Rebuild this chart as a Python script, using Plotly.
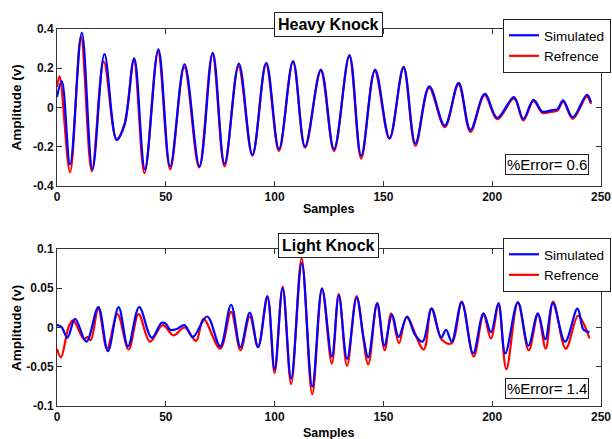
import plotly.graph_objects as go

# ---------------- data ----------------
# Heavy knock - simulated
hk_sim_x = [0, 2.2, 6, 11.4, 16.3, 21.8, 27.4, 31, 35.5, 40.4, 46.6, 52, 58.6, 65.5, 71.6,
            77, 83.6, 89.8, 96.2, 102, 108.5, 114, 121.3, 127.3, 134.4, 139.8, 146.2, 152.8,
            159.3, 164.7, 171.1, 178.2, 184.6, 190, 196.6, 202.3, 210, 214.3, 219, 223.1,
            227, 230, 232.6, 237, 243.5, 245.4]
hk_sim_y = [0.053, 0.135, -0.29, 0.38, -0.315, 0.272, -0.166, -0.09, 0.25, -0.315, 0.296,
            -0.30, 0.22, -0.30, 0.279, -0.286, 0.224, -0.241, 0.227, -0.212, 0.237, -0.198,
            0.193, -0.212, 0.267, -0.246, 0.193, -0.156, 0.207, -0.183, 0.108, -0.092, 0.125,
            -0.114, 0.07, -0.053, 0.053, -0.058, 0.039, -0.021, -0.015, -0.008, 0.036, -0.05,
            0.065, 0.027]
# Heavy knock - reference
hk_ref_x = [0, 1.2, 6, 11, 16, 21.5, 27.4, 31, 35.3, 40.2, 46.4, 52, 58.5, 65.3, 71.4, 77,
            83.4, 89.8, 96, 102, 108.4, 114, 121.2, 127.3, 134.3, 139.8, 146, 152.8, 159.2,
            164.7, 171, 178.2, 184.5, 190, 196.5, 202.3, 210, 214.3, 219, 223.1, 227, 230,
            232.6, 237, 243.5, 245.4]
hk_ref_y = [0.104, 0.159, -0.33, 0.36, -0.325, 0.232, -0.16, -0.085, 0.24, -0.335, 0.285,
            -0.315, 0.205, -0.305, 0.272, -0.30, 0.21, -0.245, 0.222, -0.222, 0.232, -0.205,
            0.187, -0.222, 0.26, -0.26, 0.185, -0.16, 0.2, -0.195, 0.1, -0.1, 0.118, -0.124,
            0.063, -0.06, 0.045, -0.066, 0.032, -0.028, -0.022, -0.016, 0.03, -0.058, 0.055,
            0.018]

# Light knock - simulated
lk_sim_x = [0, 2, 4.8, 8.3, 13.5, 19, 23.4, 28.3, 32.6, 37.8, 43.5, 48.1, 50, 52, 55, 58.6,
            62.4, 69, 75, 80, 84.3, 88.6, 92.4, 96.7, 100, 103.7, 107.6, 112.5, 117.3, 121.8,
            126.3, 129.5, 133.3, 137.7, 140.8, 143, 147.2, 150.4, 154, 157, 160.9, 164.5, 168,
            172.2, 176.5, 178.8, 181.4, 186, 191.2, 196, 199.4, 202.9, 206, 211.8, 216.6, 221,
            224.4, 227.9, 233.5, 239.2, 242, 244.7]
lk_sim_y = [0.003, 0.001, -0.013, 0.011, -0.018, 0.026, -0.030, 0.026, -0.024, 0.026, -0.013,
            0.006, 0.005, -0.003, -0.002, 0.003, -0.012, 0.014, -0.024, 0.029, -0.025, 0.019,
            -0.025, 0.040, -0.053, 0.050, -0.065, 0.082, -0.075, 0.050, -0.037, 0.041, -0.040,
            0.038, -0.012, -0.038, 0.031, -0.023, 0.016, -0.012, 0.014, -0.009, -0.018, 0.024,
            -0.013, -0.003, -0.018, 0.032, -0.033, 0.018, -0.006, 0.031, -0.033, 0.032, -0.023,
            0.018, -0.015, 0.031, -0.018, 0.024, -0.003, -0.006]
# Light knock - reference
lk_ref_x = [0, 1.8, 5.5, 7.4, 12.4, 14, 15.5, 19, 23, 27.8, 32.9, 37.5, 42.7, 48.6, 53.5,
            58.6, 63.9, 67.3, 75, 80, 84.3, 88.6, 92.4, 96.7, 100, 103.7, 107.6, 112.4, 117.3,
            121.8, 126.3, 129.5, 133.3, 137.7, 143, 147, 150.6, 153.6, 157.2, 160.6, 168.5,
            172, 177, 181.4, 186, 191.5, 196, 199.4, 202.9, 206.5, 211.8, 216.8, 221, 224.6,
            228, 233.8, 239.4, 242, 244.7]
lk_ref_y = [-0.027, -0.038, 0.002, 0.009, -0.015, -0.012, -0.016, 0.024, -0.027, 0.017,
            -0.028, 0.017, -0.018, 0.003, -0.010, 0.0, -0.017, 0.011, -0.027, 0.020, -0.029,
            0.014, -0.025, 0.038, -0.058, 0.052, -0.072, 0.088, -0.085, 0.049, -0.046, 0.043,
            -0.049, 0.040, -0.047, 0.030, -0.029, 0.018, -0.020, 0.013, -0.028, 0.024, -0.016,
            -0.020, 0.033, -0.037, 0.016, -0.014, 0.028, -0.053, 0.032, -0.029, 0.016, -0.027,
            0.033, -0.027, 0.015, 0.005, -0.014]

x_tick_vals = [0, 50, 100, 150, 200, 250]
x_tick_text = ["0", "50", "100", "150", "200", "250"]
hk_y_tick_vals = [0.4, 0.2, 0, -0.2, -0.4]
hk_y_tick_text = ["0.4", "0.2", "0", "-0.2", "-0.4"]
lk_y_tick_vals = [0.1, 0.05, 0, -0.05, -0.1]
lk_y_tick_text = ["0.1", "0.05", "0", "-0.05", "-0.1"]

titles = ["Heavy Knock", "Light Knock"]
errors = ["%Error= 0.6", "%Error= 1.4"]
series_names = ["Simulated", "Refrence"]

# ---------------- figure ----------------
W, H = 612, 439
FONT = "Liberation Sans, Arial, sans-serif"
BLUE = "#0000ff"
RED = "#ff0000"

def py(px):  # pixel row -> paper y
    return 1 - px / H

def pxx(px):
    return px / W

fig = go.Figure()

fig.add_trace(go.Scatter(x=hk_ref_x, y=hk_ref_y, name=series_names[1], mode="lines",
                         line=dict(color=RED, width=2.2, shape="spline"),
                         xaxis="x", yaxis="y", legend="legend", legendrank=2))
fig.add_trace(go.Scatter(x=hk_sim_x, y=hk_sim_y, name=series_names[0], mode="lines",
                         line=dict(color=BLUE, width=2.2, shape="spline"),
                         xaxis="x", yaxis="y", legend="legend", legendrank=1))
fig.add_trace(go.Scatter(x=lk_ref_x, y=lk_ref_y, name=series_names[1], mode="lines",
                         line=dict(color=RED, width=2.2, shape="spline"),
                         xaxis="x2", yaxis="y2", legend="legend2", legendrank=2))
fig.add_trace(go.Scatter(x=lk_sim_x, y=lk_sim_y, name=series_names[0], mode="lines",
                         line=dict(color=BLUE, width=2.2, shape="spline"),
                         xaxis="x2", yaxis="y2", legend="legend2", legendrank=1))

axis_common = dict(showline=True, linecolor="#333333", linewidth=1, mirror="ticks",
                   ticks="inside", ticklen=5, tickcolor="#333333", showgrid=False,
                   zeroline=False, automargin=False,
                   tickfont=dict(family=FONT, size=12, color="#111111", weight="bold"))

xdom = [pxx(57), pxx(601)]
fig.update_layout(
    width=W, height=H,
    margin=dict(l=0, r=0, t=0, b=0),
    paper_bgcolor="white", plot_bgcolor="white",
    font=dict(family=FONT, color="black"),
    xaxis=dict(domain=xdom, range=[0, 250], tickvals=x_tick_vals, ticktext=x_tick_text,
               anchor="y", **axis_common),
    yaxis=dict(domain=[py(186), py(29)], range=[-0.4, 0.4], tickvals=hk_y_tick_vals,
               ticktext=hk_y_tick_text, anchor="x", **axis_common),
    xaxis2=dict(domain=xdom, range=[0, 250], tickvals=x_tick_vals, ticktext=x_tick_text,
                anchor="y2", **axis_common),
    yaxis2=dict(domain=[py(406), py(249)], range=[-0.1, 0.1], tickvals=lk_y_tick_vals,
                ticktext=lk_y_tick_text, anchor="x2", **axis_common),
    legend=dict(x=pxx(611), xanchor="right", y=py(19), yanchor="top",
                bgcolor="white", bordercolor="#222222", borderwidth=1,
                font=dict(family=FONT, size=13.5, color="black"), itemwidth=30,
                tracegroupgap=0),
    legend2=dict(x=pxx(611), xanchor="right", y=py(238), yanchor="top",
                 bgcolor="white", bordercolor="#222222", borderwidth=1,
                 font=dict(family=FONT, size=13.5, color="black"), itemwidth=30,
                 tracegroupgap=0),
    showlegend=True,
)

annotations = []
# panel titles in boxes
for title, ypx in zip(titles, [24.5, 245]):
    annotations.append(dict(text=title, x=pxx(328), y=py(ypx), xref="paper", yref="paper",
                            xanchor="center", yanchor="middle", showarrow=False,
                            font=dict(family=FONT, size=16, color="black", weight="bold"),
                            bgcolor="white", bordercolor="#222222", borderwidth=1,
                            borderpad=3))
# error boxes
for err, ypx in zip(errors, [165, 388]):
    annotations.append(dict(text=err, x=pxx(547), y=py(ypx), xref="paper", yref="paper",
                            xanchor="center", yanchor="middle", showarrow=False,
                            font=dict(family=FONT, size=15, color="black"),
                            bgcolor="white", bordercolor="#222222", borderwidth=1,
                            borderpad=1))
# axis titles
for ypx in [107.5, 328]:
    annotations.append(dict(text="Amplitude (v)", x=pxx(16), y=py(ypx), xref="paper",
                            yref="paper", xanchor="center", yanchor="middle", textangle=-90,
                            showarrow=False,
                            font=dict(family=FONT, size=13.5, color="black", weight="bold")))
for ypx in [209, 433]:
    annotations.append(dict(text="Samples", x=pxx(328), y=py(ypx), xref="paper",
                            yref="paper", xanchor="center", yanchor="middle",
                            showarrow=False,
                            font=dict(family=FONT, size=12.5, color="black", weight="bold")))
fig.update_layout(annotations=annotations)

fig.write_html("out.html")
